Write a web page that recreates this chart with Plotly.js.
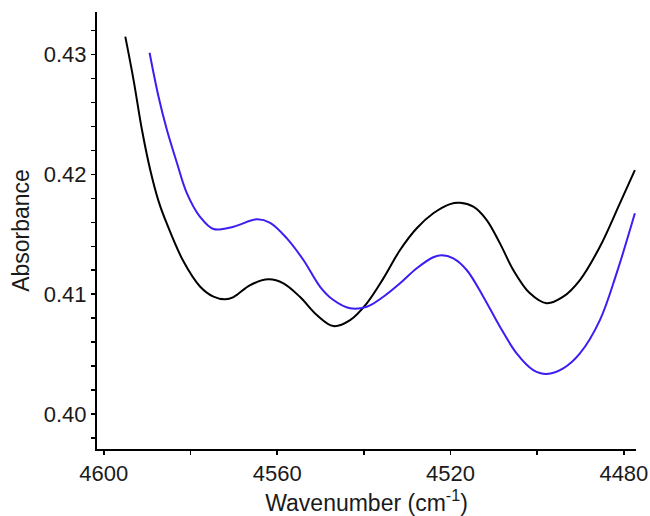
<!DOCTYPE html>
<html>
<head>
<meta charset="utf-8">
<script src="https://cdn.plot.ly/plotly-3.0.1.min.js"></script>
<style>html,body{margin:0;padding:0;background:#fff;}#chart{width:650px;height:516px;}</style>
</head>
<body>
<div id="chart"></div>
<script>
// Wavenumber (cm-1) and absorbance
var blackWavenumber = [4595.04, 4593.13, 4591.19, 4589.28, 4587.37, 4585.43, 4581.60, 4577.75, 4574.69, 4571.99, 4570.07, 4566.22, 4562.01, 4558.55, 4554.70, 4550.85, 4547.02, 4543.17, 4539.32, 4535.49, 4531.64, 4527.79, 4523.97, 4520.12, 4517.81, 4514.74, 4511.65, 4508.59, 4505.52, 4501.67, 4497.82, 4493.99, 4490.14, 4485.53, 4480.92, 4477.46];
var blackAbsorbance = [0.43149, 0.42787, 0.42370, 0.42036, 0.41777, 0.41586, 0.41272, 0.41062, 0.40979, 0.40957, 0.40976, 0.41076, 0.41124, 0.41091, 0.40976, 0.40826, 0.40734, 0.40784, 0.40924, 0.41132, 0.41369, 0.41550, 0.41675, 0.41752, 0.41763, 0.41730, 0.41619, 0.41424, 0.41202, 0.41007, 0.40924, 0.40979, 0.41118, 0.41396, 0.41758, 0.42036];

var blueWavenumber = [4589.44, 4587.37, 4585.43, 4583.12, 4580.82, 4577.75, 4574.69, 4570.07, 4564.68, 4561.61, 4557.76, 4553.94, 4550.09, 4547.02, 4543.17, 4539.32, 4535.49, 4531.64, 4527.79, 4523.97, 4522.03, 4519.36, 4516.27, 4512.44, 4508.59, 4504.74, 4500.91, 4497.82, 4493.99, 4490.14, 4485.53, 4481.68, 4477.46];
var blueAbsorbance = [0.43015, 0.42648, 0.42370, 0.42095, 0.41842, 0.41644, 0.41544, 0.41563, 0.41625, 0.41596, 0.41466, 0.41285, 0.41062, 0.40951, 0.40882, 0.40895, 0.40979, 0.41091, 0.41216, 0.41308, 0.41324, 0.41299, 0.41202, 0.40979, 0.40728, 0.40506, 0.40367, 0.40334, 0.40381, 0.40506, 0.40784, 0.41174, 0.41675];

var xTickValues = [4600, 4560, 4520, 4480];
var xTickLabels = ['4600', '4560', '4520', '4480'];
var yTickValues = [0.40, 0.41, 0.42, 0.43];
var yTickLabels = ['0.40', '0.41', '0.42', '0.43'];

var fontFamily = '"Liberation Sans", Arial, sans-serif';

var traces = [
  {x: blackWavenumber, y: blackAbsorbance, mode: 'lines', type: 'scatter',
   line: {color: '#000000', width: 2, shape: 'spline', smoothing: 1}, hoverinfo: 'skip'},
  {x: blueWavenumber, y: blueAbsorbance, mode: 'lines', type: 'scatter',
   line: {color: '#3a1ef2', width: 2, shape: 'spline', smoothing: 1}, hoverinfo: 'skip'}
];

var layout = {
  width: 650, height: 516,
  margin: {l: 97, r: 14, t: 12, b: 67},
  paper_bgcolor: '#ffffff', plot_bgcolor: '#ffffff',
  showlegend: false,
  font: {family: fontFamily, color: '#000000', size: 22},
  xaxis: {
    range: [4601.57, 4477.2],
    autorange: false,
    showgrid: false, zeroline: false,
    showline: true, linecolor: '#000000', linewidth: 2,
    ticks: 'outside', ticklen: 4, tickwidth: 1.5, tickcolor: '#000000',
    tickmode: 'array', tickvals: xTickValues, ticktext: xTickLabels,
    tickfont: {size: 22, family: fontFamily, color: '#1a1a1a'},
    minor: {dtick: 20, ticks: 'outside', ticklen: 4, tickwidth: 1.5, tickcolor: '#000000', showgrid: false},
    title: {text: 'Wavenumber (cm<sup>-1</sup>)', font: {size: 23, family: fontFamily, color: '#1a1a1a'}, standoff: 11},
    automargin: false
  },
  yaxis: {
    range: [0.39708, 0.43355],
    autorange: false,
    showgrid: false, zeroline: false,
    showline: true, linecolor: '#000000', linewidth: 2,
    ticks: 'outside', ticklen: 4, tickwidth: 1.5, tickcolor: '#000000',
    tickmode: 'array', tickvals: yTickValues, ticktext: yTickLabels,
    tickfont: {size: 22, family: fontFamily, color: '#1a1a1a'},
    minor: {dtick: 0.002, tick0: 0.40, ticks: 'outside', ticklen: 4, tickwidth: 1.5, tickcolor: '#000000', showgrid: false},
    title: {text: 'Absorbance', font: {size: 23, family: fontFamily, color: '#1a1a1a'}, standoff: 8},
    automargin: false
  }
};

Plotly.newPlot('chart', traces, layout, {staticPlot: true, displayModeBar: false});
</script>
</body>
</html>
